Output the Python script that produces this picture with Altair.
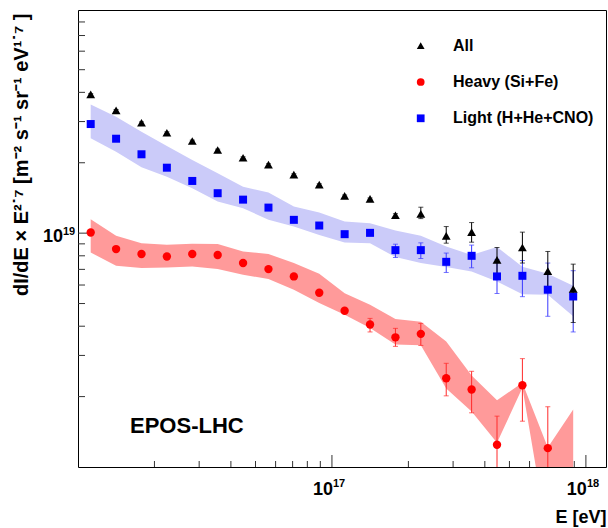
import altair as alt
import pandas as pd

FONT = "Liberation Sans"
UNIT = 1e19  # flux values below are in units of 1e19

# bin centres, log10(E/eV)
log_energy = [16.05, 16.15, 16.25, 16.35, 16.45, 16.55, 16.65, 16.75, 16.85, 16.95,
              17.05, 17.15, 17.25, 17.35, 17.45, 17.55, 17.65, 17.75, 17.85, 17.95]

series_names = ["All", "Heavy (Si+Fe)", "Light (H+He+CNO)"]
series_colors = ["black", "red", "blue"]
series_shapes = ["triangle-up", "circle", "square"]
series_sizes = [78, 70, 64]
bar_colors = ["black", "#ff2a2a", "#3a3aff"]

# all-particle flux
flux_all = [3.92, 3.35, 2.965, 2.688, 2.477, 2.267, 2.102, 1.963, 1.779, 1.612,
            1.443, 1.401, 1.193, 1.209, 0.974, 1.010, 0.769, 0.868, 0.688, 0.577]
all_lo = [3.89, 3.32, 2.94, 2.665, 2.455, 2.247, 2.084, 1.946, 1.764, 1.598,
          1.430, 1.388, 1.175, 1.154, 0.906, 0.915, 0.670, 0.745, 0.562, 0.415]
all_hi = [3.95, 3.38, 2.99, 2.711, 2.499, 2.287, 2.120, 1.980, 1.794, 1.626,
          1.456, 1.414, 1.211, 1.291, 1.067, 1.110, 0.868, 1.010, 0.835, 0.737]

# heavy component
flux_heavy = [1.006, 0.855, 0.814, 0.795, 0.814, 0.806, 0.745, 0.702, 0.653, 0.556,
              0.466, 0.407, 0.3585, 0.371, 0.2395, 0.2145, 0.1245, 0.2237, 0.1204, 0.070]
heavy_lo = [0.997, 0.848, 0.807, 0.788, 0.807, 0.799, 0.739, 0.696, 0.647, 0.551,
            0.461, 0.378, 0.328, 0.331, 0.2015, 0.1705, 0.094, 0.157, 0.080, 0.050]
heavy_hi = [1.015, 0.862, 0.821, 0.802, 0.821, 0.813, 0.751, 0.708, 0.659, 0.561,
            0.471, 0.432, 0.3916, 0.4113, 0.2776, 0.2566, 0.165, 0.2907, 0.181, 0.090]

# light component
flux_light = [2.928, 2.534, 2.174, 1.905, 1.672, 1.482, 1.391, 1.286, 1.140, 1.078,
              0.990, 1.003, 0.846, 0.846, 0.754, 0.800, 0.653, 0.657, 0.573, 0.536]
light_lo = [2.905, 2.514, 2.157, 1.890, 1.659, 1.470, 1.380, 1.276, 1.131, 1.069,
            0.982, 0.995, 0.787, 0.779, 0.679, 0.711, 0.552, 0.535, 0.441, 0.378]
light_hi = [2.951, 2.554, 2.191, 1.920, 1.685, 1.494, 1.402, 1.296, 1.149, 1.087,
            0.998, 1.011, 0.897, 0.909, 0.822, 0.889, 0.771, 0.764, 0.745, 0.691]

# systematic bands
light_band_hi = [3.553, 3.146, 2.715, 2.358, 2.055, 1.804, 1.581, 1.491, 1.299, 1.224,
                 1.121, 1.103, 1.026, 0.974, 0.877, 0.806, 0.872, 0.718, 0.670, 0.596]
light_band_lo = [2.544, 2.230, 1.913, 1.744, 1.556, 1.364, 1.279, 1.140, 1.067, 0.983,
                 0.912, 0.906, 0.790, 0.745, 0.716, 0.686, 0.621, 0.548, 0.545, 0.441]
heavy_band_hi = [1.148, 0.974, 0.906, 0.891, 0.900, 0.898, 0.835, 0.814, 0.745, 0.670,
                 0.554, 0.494, 0.4295, 0.418, 0.3437, 0.246, 0.193, 0.229, 0.1213, 0.176]
heavy_band_lo = [0.8265, 0.725, 0.709, 0.713, 0.720, 0.702, 0.664, 0.636, 0.573, 0.503,
                 0.448, 0.393, 0.334, 0.332, 0.2165, 0.1727, 0.127, 0.218, 0.050, 0.050]

# axis ticks
x_major = [1e17, 1e18]
x_major_exp = ["17", "18"]
x_minor = [2e16, 3e16, 4e16, 5e16, 6e16, 7e16, 8e16, 9e16,
           2e17, 3e17, 4e17, 5e17, 6e17, 7e17, 8e17, 9e17]
y_major = [1e19]
y_major_exp = ["19"]
y_minor = [2e18, 3e18, 4e18, 5e18, 6e18, 7e18, 8e18, 9e18,
           2e19, 3e19, 4e19, 5e19, 6e19, 7e19, 8e19]

W, H = 528, 457

energy = [10 ** v for v in log_energy]

rows = []
for name, vals, lo, hi in [
    (series_names[0], flux_all, all_lo, all_hi),
    (series_names[1], flux_heavy, heavy_lo, heavy_hi),
    (series_names[2], flux_light, light_lo, light_hi),
]:
    for e, v, l, h in zip(energy, vals, lo, hi):
        rows.append({"E": e, "series": name, "flux": v * UNIT,
                     "lo": l * UNIT, "hi": h * UNIT})
points = pd.DataFrame(rows)

band_rows = []
for grp, top, bot in [("Light", light_band_hi, light_band_lo),
                      ("Heavy", heavy_band_hi, heavy_band_lo)]:
    for e, t, b in zip(energy, top, bot):
        band_rows.append({"E": e, "group": grp, "top": t * UNIT, "bottom": b * UNIT})
bands = pd.DataFrame(band_rows)

xscale = alt.Scale(type="log", domain=[1e16, 1.2e18], nice=False)
yscale = alt.Scale(type="log", domain=[1e18, 9e19], nice=False)

xaxis = alt.Axis(title="E [eV]", labels=False, ticks=False, domain=False, grid=False,
                 titleFont=FONT, titleFontSize=18, titleFontWeight="bold",
                 titleColor="black", titleX=W, titleY=55, titleAlign="right",
                 titleBaseline="alphabetic")
yaxis = alt.Axis(title="dI/dE × E²˙⁷ [m⁻² s⁻¹ sr⁻¹ eV¹˙⁷ ]", labels=False, ticks=False,
                 domain=False, grid=False, titleFont=FONT, titleFontSize=20,
                 titleFontWeight="bold", titleColor="black", titleX=-57, titleY=3,
                 titleAngle=270, titleAlign="right", titleBaseline="middle")


def X(field):
    return alt.X(f"{field}:Q", scale=xscale, axis=xaxis)


def Y(field):
    return alt.Y(f"{field}:Q", scale=yscale, axis=yaxis)


color_scale = alt.Scale(domain=series_names, range=series_colors)
shape_scale = alt.Scale(domain=series_names, range=series_shapes)
legend = alt.Legend(orient="none", legendX=334.7, legendY=27.7, title=None,
                    labelFont=FONT, labelFontSize=16, labelFontWeight="bold",
                    labelColor="black", symbolSize=60, symbolStrokeWidth=0,
                    rowPadding=20.3, labelOffset=24.3, padding=0)

# tick marks drawn inside the frame
xmaj = pd.DataFrame({"tick": x_major, "base": ["10", "10"], "exp": x_major_exp})
xmin = pd.DataFrame({"tick": x_minor})
ymaj = pd.DataFrame({"tick": y_major, "base": ["10"], "exp": y_major_exp})
ymin = pd.DataFrame({"tick": y_minor})

tick_color = "#333333"
x_major_ticks = alt.Chart(xmaj).mark_rule(color=tick_color).encode(
    x=X("tick"), y=alt.value(H), y2=alt.value(H - 12))
x_minor_ticks = alt.Chart(xmin).mark_rule(color=tick_color).encode(
    x=X("tick"), y=alt.value(H), y2=alt.value(H - 6))
y_major_ticks = alt.Chart(ymaj).mark_rule(color=tick_color).encode(
    y=Y("tick"), x=alt.value(0), x2=alt.value(12))
y_minor_ticks = alt.Chart(ymin).mark_rule(color=tick_color).encode(
    y=Y("tick"), x=alt.value(0), x2=alt.value(7))

label_style = dict(font=FONT, fontWeight="bold", color="black")
x_base = alt.Chart(xmaj).mark_text(align="right", baseline="alphabetic", dx=1,
                                   fontSize=18, **label_style).encode(
    x=X("tick"), y=alt.value(H + 28), text="base:N")
x_exp = alt.Chart(xmaj).mark_text(align="left", baseline="alphabetic", dx=1,
                                  fontSize=11, **label_style).encode(
    x=X("tick"), y=alt.value(H + 20), text="exp:N")
y_base = alt.Chart(ymaj).mark_text(align="right", baseline="alphabetic", dy=9,
                                   fontSize=18, **label_style).encode(
    y=Y("tick"), x=alt.value(-15), text="base:N")
y_exp = alt.Chart(ymaj).mark_text(align="left", baseline="alphabetic", dy=2,
                                  fontSize=11, **label_style).encode(
    y=Y("tick"), x=alt.value(-15), text="exp:N")

# systematic bands
light_band = alt.Chart(bands).transform_filter(alt.datum.group == "Light").mark_area(
    color="#cbcbf9", clip=True).encode(x=X("E"), y=Y("top"), y2="bottom")
heavy_band = alt.Chart(bands).transform_filter(alt.datum.group == "Heavy").mark_area(
    color="#ff9a9a", clip=True).encode(x=X("E"), y=Y("top"), y2="bottom")

layers = [x_minor_ticks, x_major_ticks, y_minor_ticks, y_major_ticks,
          x_base, x_exp, y_base, y_exp, light_band, heavy_band]

# error bars: light, heavy, then all-particle on top
for idx in [2, 1, 0]:
    name = series_names[idx]
    base = alt.Chart(points).transform_filter(alt.datum.series == name)
    bars = base.mark_rule(strokeWidth=1, clip=True, color=bar_colors[idx]).encode(
        x=X("E"), y=Y("lo"), y2="hi")
    caps = base.transform_fold(["lo", "hi"], as_=["end", "val"]).mark_tick(
        orient="horizontal", size=5, thickness=1, clip=True,
        color=bar_colors[idx]).encode(x=X("E"), y=Y("val"))
    layers += [bars, caps]

# markers, one layer per series so each keeps its own marker size
for idx in [2, 1, 0]:
    name = series_names[idx]
    marks = alt.Chart(points).transform_filter(alt.datum.series == name).mark_point(
        filled=True, size=series_sizes[idx], opacity=1, clip=True).encode(
        x=X("E"), y=Y("flux"),
        color=alt.Color("series:N", scale=color_scale, legend=legend),
        shape=alt.Shape("series:N", scale=shape_scale, legend=legend))
    layers.append(marks)

model = pd.DataFrame({"model": ["EPOS-LHC"]})
model_label = alt.Chart(model).mark_text(
    align="left", baseline="alphabetic", font=FONT, fontSize=22, fontWeight="bold",
    color="black").encode(x=alt.value(52), y=alt.value(423), text="model:N")
layers.append(model_label)

chart = alt.layer(*layers).properties(
    width=W, height=H,
    autosize=alt.AutoSizeParams(type="none"),
    padding={"left": 78, "top": 10, "right": 2, "bottom": 61},
    background="white",
).configure_view(stroke="black", strokeWidth=1)

chart.save("out.html", embed_options={"renderer": "svg", "actions": False})
